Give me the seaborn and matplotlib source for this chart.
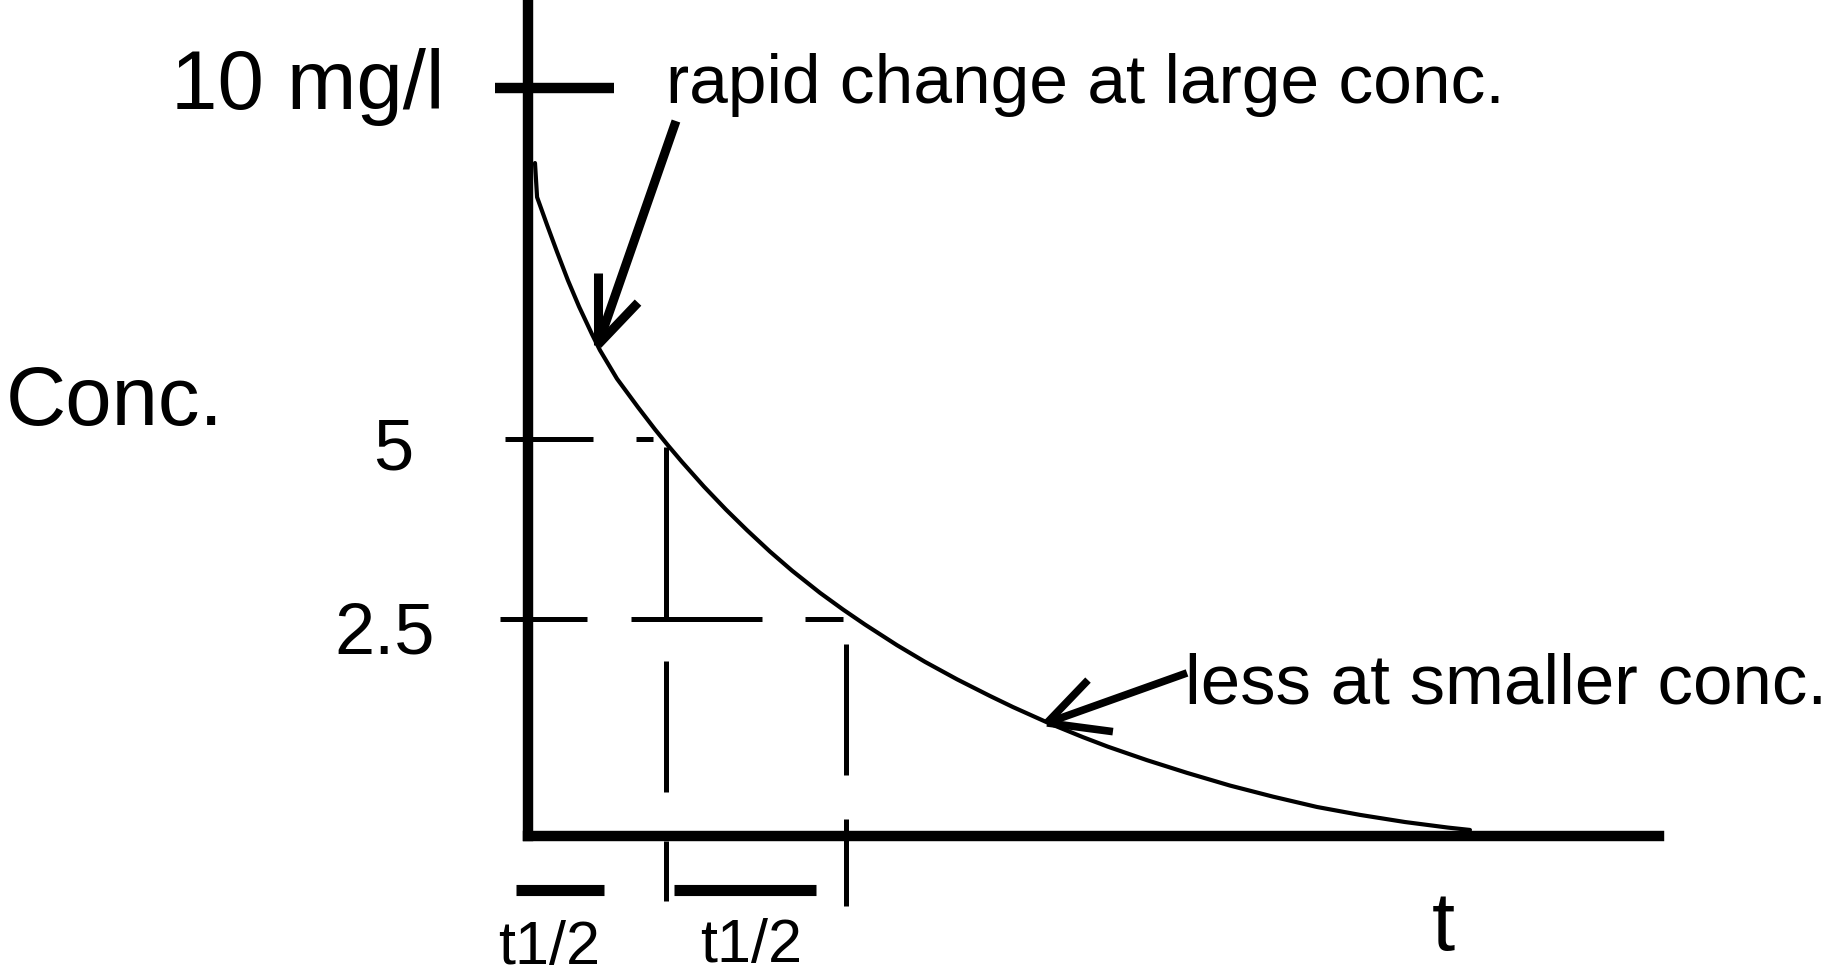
import numpy as np
import pandas as pd
import matplotlib
matplotlib.use('Agg')
import matplotlib.pyplot as plt
import seaborn as sns

# decay curve (t in half-lives, conc in mg/l)
curve_t = [0.054, 0.069, 0.141, 0.213, 0.292, 0.372, 0.466, 0.523, 0.646, 0.798,
           0.921, 1.014, 1.116, 1.274, 1.433, 1.585, 1.751, 1.910, 2.112, 2.278,
           2.437, 2.668, 2.870, 3.101, 3.339, 3.505, 3.773, 4.011, 4.191, 4.473,
           4.762, 5.072, 5.383, 5.700, 6.011, 6.336, 6.646, 6.805]
curve_c = [8.48, 8.05, 7.70, 7.36, 7.00, 6.67, 6.32, 6.12, 5.76, 5.40,
           5.12, 4.92, 4.71, 4.40, 4.11, 3.85, 3.58, 3.34, 3.06, 2.85,
           2.66, 2.40, 2.19, 1.97, 1.76, 1.62, 1.41, 1.24, 1.12, 0.95,
           0.79, 0.63, 0.49, 0.36, 0.26, 0.17, 0.10, 0.07]

# y "ticks" as drawn
level_pos = [9.43, 5.0, 2.73]
level_labels = ['10 mg/l', '5', '2.5']

# dashed guide pieces
half_dash = [(-0.162, 0.473), (0.783, 0.906)]                   # at 5
quarter_dash = [(-0.199, 0.430), (0.747, 1.693), (2.004, 2.278)]  # at 2.5
t_half_1 = 1.0
t_half_2 = 2.30
vert1 = [(4.90, 2.73), (2.20, 0.55), (-0.07, -0.82)]
vert2 = [(2.41, 0.76), (0.21, -0.89)]
bar_level = -0.681
bars = [(-0.083, 0.552), (1.058, 2.083)]

# arrows: tail, tip, barb ends
arrow1 = {'tail': (1.072, 9.01), 'tip': (0.509, 6.19), 'barbs': [(0.509, 7.09), (0.798, 6.72)]}
arrow2 = {'tail': (4.762, 2.05), 'tip': (3.751, 1.42), 'barbs': [(4.047, 1.96), (4.227, 1.31)]}

sns.set_theme(style='white')
plt.rcParams['font.family'] = ['Liberation Sans', 'DejaVu Sans']

curve = pd.DataFrame({'t': curve_t, 'conc': curve_c})

fig = plt.figure(figsize=(18.31, 9.75), dpi=100)
ax = fig.add_axes([0, 0, 1, 1])
ax.set_xlim(-3.809, 9.412)
ax.set_ylim(-1.759, 10.536)
ax.axis('off')

k = 'black'
sns.lineplot(data=curve, x='t', y='conc', ax=ax, color=k, lw=3, sort=False,
             estimator=None, solid_joinstyle='round')

# axes drawn by hand like the sketch
ax.plot([0, 0], [0, 10.7], color=k, lw=7.5, solid_capstyle='projecting')
ax.plot([0, 8.17], [0, 0], color=k, lw=7.5, solid_capstyle='projecting')
ax.plot([-0.235, 0.628], [level_pos[0]] * 2, color=k, lw=7.5, solid_capstyle='butt')

for a, b in half_dash:
    ax.plot([a, b], [level_pos[1]] * 2, color=k, lw=3.6, solid_capstyle='butt')
for a, b in quarter_dash:
    ax.plot([a, b], [level_pos[2]] * 2, color=k, lw=3.6, solid_capstyle='butt')
for a, b in vert1:
    ax.plot([t_half_1] * 2, [a, b], color=k, lw=3.6, solid_capstyle='butt')
for a, b in vert2:
    ax.plot([t_half_2] * 2, [a, b], color=k, lw=3.6, solid_capstyle='butt')
for a, b in bars:
    ax.plot([a, b], [bar_level] * 2, color=k, lw=8, solid_capstyle='butt')

for arr, w in [(arrow1, 6.5), (arrow2, 5.5)]:
    tx, ty = arr['tail']
    px, py = arr['tip']
    ax.plot([tx, px], [ty, py], color=k, lw=w, solid_capstyle='butt')
    for bx, by in arr['barbs']:
        ax.plot([bx, px], [by, py], color=k, lw=w, solid_capstyle='butt')

# labels
ax.text(-0.603, 9.16, level_labels[0], ha='right', va='baseline', fontsize=60, color=k)
ax.text(-0.827, 4.62, level_labels[1], ha='right', va='baseline', fontsize=52, color=k)
ax.text(-0.668, 2.29, level_labels[2], ha='right', va='baseline', fontsize=52, color=k)
ax.text(-3.765, 5.18, 'Conc.', ha='left', va='baseline', fontsize=60, color=k)
ax.text(1.0, 9.24, 'rapid change at large conc.', ha='left', va='baseline', fontsize=50, color=k)
ax.text(4.747, 1.67, 'less at smaller conc.', ha='left', va='baseline', fontsize=51, color=k)
ax.text(0.159, -1.62, 't1/2', ha='center', va='baseline', fontsize=44, color=k)
ax.text(1.614, -1.60, 't1/2', ha='center', va='baseline', fontsize=44, color=k)
ax.text(6.61, -1.44, 't', ha='center', va='baseline', fontsize=60, color=k)

fig.savefig('out.png', dpi=100, facecolor='white')
